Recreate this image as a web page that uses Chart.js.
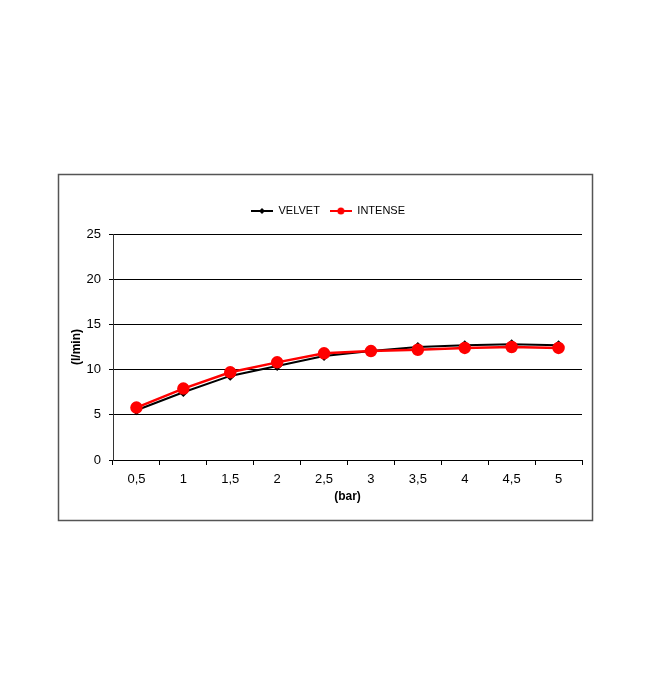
<!DOCTYPE html>
<html>
<head>
<meta charset="utf-8">
<script src="https://cdn.jsdelivr.net/npm/chart.js@4.4.1/dist/chart.umd.min.js"></script>
<style>
  html, body { margin: 0; padding: 0; background: #fff; }
  canvas { display: block; }
</style>
</head>
<body>
<canvas id="chart" width="650" height="699"></canvas>
<script>
// pressure steps (bar)
const categories = ["0,5", "1", "1,5", "2", "2,5", "3", "3,5", "4", "4,5", "5"];
// flow in l/min
const velvet = [5.5, 7.5, 9.3, 10.4, 11.5, 12.05, 12.5, 12.7, 12.8, 12.7];
const intense = [5.8, 7.9, 9.7, 10.8, 11.8, 12.05, 12.2, 12.4, 12.5, 12.4];
const yTicks = [0, 5, 10, 15, 20, 25];

const fontFamily = "'Liberation Sans', Arial, sans-serif";

// legend swatch: short line with its marker in the middle
function swatch(color, style) {
  const c = document.createElement("canvas");
  c.width = 22;
  c.height = 10;
  const g = c.getContext("2d");
  g.strokeStyle = color;
  g.fillStyle = color;
  g.lineWidth = 2;
  g.beginPath();
  g.moveTo(0, 5);
  g.lineTo(22, 5);
  g.stroke();
  g.beginPath();
  if (style === "circle") {
    g.arc(11, 5, 3.5, 0, Math.PI * 2);
  } else {
    g.moveTo(11, 2); g.lineTo(14, 5); g.lineTo(11, 8); g.lineTo(8, 5); g.closePath();
  }
  g.fill();
  return c;
}

const framePlugin = {
  id: "frame",
  beforeInit(chart) {
    // push the plot a bit further below the legend, and nudge the legend right
    const legend = chart.legend;
    const fit = legend.fit;
    legend.fit = function () {
      fit.call(this);
      this.height += 7.5;
    };
    const draw = legend.draw;
    legend.draw = function () {
      this.ctx.save();
      this.ctx.translate(8, 0);
      draw.call(this);
      this.ctx.restore();
    };
  },
  beforeDraw(chart) {
    const ctx = chart.ctx;
    ctx.save();
    ctx.strokeStyle = "#555";
    ctx.lineWidth = 1.5;
    ctx.strokeRect(58.5, 174.5, 534, 346);
    ctx.restore();
  }
};

new Chart(document.getElementById("chart"), {
  type: "line",
  data: {
    labels: categories,
    datasets: [
      {
        label: "VELVET",
        data: velvet,
        borderColor: "#000",
        backgroundColor: "#000",
        borderWidth: 2,
        pointStyle: "rectRot",
        pointRadius: 3.5,
        pointHoverRadius: 3.5,
        tension: 0,
        order: 1
      },
      {
        label: "INTENSE",
        data: intense,
        borderColor: "#f00",
        backgroundColor: "#f00",
        borderWidth: 2.5,
        pointStyle: "circle",
        pointRadius: 5,
        pointHoverRadius: 5,
        tension: 0,
        order: 0
      }
    ]
  },
  options: {
    responsive: false,
    animation: false,
    layout: {
      padding: { left: 58, right: 68, top: 195.5, bottom: 189 }
    },
    plugins: {
      legend: {
        position: "top",
        labels: {
          usePointStyle: true,
          pointStyleWidth: 22,
          padding: 10,
          color: "#000",
          font: { family: fontFamily, size: 11 },
          sort: (a, b) => a.datasetIndex - b.datasetIndex,
          generateLabels(chart) {
            const styles = [swatch("#000", "diamond"), swatch("#f00", "circle")];
            return chart.data.datasets.map((ds, i) => ({
              text: ds.label,
              datasetIndex: i,
              pointStyle: styles[i],
              fillStyle: ds.borderColor,
              strokeStyle: ds.borderColor,
              lineWidth: 0,
              fontColor: "#000",
              hidden: false
            }));
          }
        }
      },
      tooltip: { enabled: false },
      title: { display: false }
    },
    scales: {
      x: {
        offset: true,
        afterFit(scale) { scale.height = 50; },
        grid: {
          offset: true,
          drawOnChartArea: false,
          drawTicks: true,
          tickLength: 5,
          color: "#000"
        },
        border: { color: "#000", width: 1 },
        ticks: {
          color: "#000",
          padding: 7,
          maxRotation: 0,
          font: { family: fontFamily, size: 13 }
        },
        title: {
          display: true,
          text: "(bar)",
          color: "#000",
          padding: { top: 2, bottom: 6 },
          font: { family: fontFamily, size: 12, weight: "bold" }
        }
      },
      y: {
        min: 0,
        max: 25,
        afterFit(scale) { scale.width = 55; },
        afterBuildTicks(scale) {
          scale.ticks = yTicks.map((v) => ({ value: v }));
        },
        grid: {
          color: "#000",
          lineWidth: 1,
          tickLength: 4
        },
        border: { color: "#333", width: 1 },
        ticks: {
          color: "#000",
          padding: 8,
          font: { family: fontFamily, size: 13 }
        },
        title: {
          display: true,
          text: "(l/min)",
          color: "#000",
          padding: { top: 11, bottom: 0 },
          font: { family: fontFamily, size: 12, weight: "bold" }
        }
      }
    }
  },
  plugins: [framePlugin]
});
</script>
</body>
</html>
